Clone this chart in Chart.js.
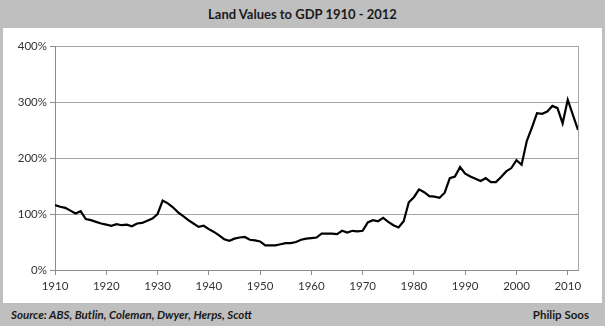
<!DOCTYPE html>
<html>
<head>
<meta charset="utf-8">
<script src="https://cdn.jsdelivr.net/npm/chart.js@4.4.1/dist/chart.umd.min.js"></script>
<style>
  html, body { margin: 0; padding: 0; background: #fff; }
  #wrap { position: relative; width: 605px; height: 326px; background: #bfbfbf; font-family: Lato, "Open Sans", sans-serif; color: #1a1a1a; }
  #title { position: absolute; left: 0; top: 0; width: 605px; height: 28px; line-height: 29px; text-align: center; font-weight: bold; font-size: 13px; }
  #box { position: absolute; left: 3px; top: 28px; width: 599px; height: 275px; background: #fff; }
  #src { position: absolute; left: 11px; top: 303px; height: 23px; line-height: 23px; font-size: 11.5px; font-weight: bold; font-style: italic; }
  #author { position: absolute; right: 16px; top: 303px; height: 23px; line-height: 23px; font-size: 11.5px; font-weight: bold; }
</style>
</head>
<body>
<div id="wrap">
  <div id="title">Land Values to GDP 1910 - 2012</div>
  <div id="box"><canvas id="land-chart" width="599" height="275"></canvas></div>
  <div id="src">Source: ABS, Butlin, Coleman, Dwyer, Herps, Scott</div>
  <div id="author">Philip Soos</div>
</div>
<script>
// years on the x axis
var years = [
  1910, 1911, 1912, 1913, 1914, 1915, 1916, 1917, 1918, 1919,
  1920, 1921, 1922, 1923, 1924, 1925, 1926, 1927, 1928, 1929,
  1930, 1931, 1932, 1933, 1934, 1935, 1936, 1937, 1938, 1939,
  1940, 1941, 1942, 1943, 1944, 1945, 1946, 1947, 1948, 1949,
  1950, 1951, 1952, 1953, 1954, 1955, 1956, 1957, 1958, 1959,
  1960, 1961, 1962, 1963, 1964, 1965, 1966, 1967, 1968, 1969,
  1970, 1971, 1972, 1973, 1974, 1975, 1976, 1977, 1978, 1979,
  1980, 1981, 1982, 1983, 1984, 1985, 1986, 1987, 1988, 1989,
  1990, 1991, 1992, 1993, 1994, 1995, 1996, 1997, 1998, 1999,
  2000, 2001, 2002, 2003, 2004, 2005, 2006, 2007, 2008, 2009,
  2010, 2011, 2012
];
// land values as % of GDP
var landToGdp = [
  116, 113, 111, 106, 101, 105, 91, 89, 86, 83,
  81, 79, 82, 80, 81, 78, 83, 84, 88, 92,
  100, 124, 119, 112, 103, 96, 89, 83, 77, 79,
  73, 68, 62, 55, 52, 56, 58, 59, 54, 53,
  51, 44, 44, 44, 46, 48, 48, 50, 54, 56,
  57, 58, 65, 65, 65, 64, 70, 67, 70, 69,
  70, 85, 89, 87, 93, 86, 80, 76, 87, 121,
  130, 144, 139, 132, 131, 129, 138, 164, 167, 184,
  172, 167, 163, 159, 164, 157, 157, 166, 176, 182,
  196, 188, 230, 254, 280, 279, 283, 293, 289, 262,
  304, 277, 250
];
var xTicks = [1910, 1920, 1930, 1940, 1950, 1960, 1970, 1980, 1990, 2000, 2010];
var yTicks = [0, 100, 200, 300, 400];

var points = years.map(function(yr, i) { return { x: yr, y: landToGdp[i] }; });

var tickFont = { family: 'Lato, "Open Sans", sans-serif', size: 11.5 };
var axisGrey = '#8c8c8c';
var gridGrey = '#a6a6a6';

// right-hand frame line of the plot area
var rightFrame = {
  id: 'rightFrame',
  afterDraw: function(chart) {
    var ctx = chart.ctx, a = chart.chartArea;
    ctx.save();
    ctx.strokeStyle = gridGrey;
    ctx.lineWidth = 1;
    ctx.beginPath();
    ctx.moveTo(Math.round(a.right) + 0.5, a.top);
    ctx.lineTo(Math.round(a.right) + 0.5, a.bottom);
    ctx.stroke();
    ctx.restore();
  }
};

var landChart = new Chart(document.getElementById('land-chart').getContext('2d'), {
  type: 'line',
  data: {
    datasets: [{
      data: points,
      borderColor: '#000',
      borderWidth: 2.2,
      pointRadius: 0,
      tension: 0,
      fill: false
    }]
  },
  options: {
    responsive: false,
    animation: false,
    layout: { padding: { top: 18, right: 24, left: 0, bottom: 0 } },
    plugins: { legend: { display: false }, tooltip: { enabled: false } },
    scales: {
      x: {
        type: 'linear',
        min: years[0],
        max: years[years.length - 1],
        afterBuildTicks: function(s) {
          s.ticks = xTicks.map(function(v) { return { value: v }; });
        },
        afterFit: function(s) { s.height = 33; },
        grid: { drawOnChartArea: false, drawTicks: true, tickLength: 5, color: axisGrey },
        border: { color: axisGrey },
        ticks: {
          maxRotation: 0,
          autoSkip: false,
          padding: 4,
          color: '#333',
          font: tickFont,
          callback: function(v) { return String(v); }
        }
      },
      y: {
        min: yTicks[0],
        max: yTicks[yTicks.length - 1],
        afterBuildTicks: function(s) {
          s.ticks = yTicks.map(function(v) { return { value: v }; });
        },
        afterFit: function(s) { s.width = 52; },
        grid: { color: gridGrey, tickLength: 5, tickColor: axisGrey },
        border: { color: axisGrey },
        ticks: {
          padding: 3,
          color: '#333',
          font: tickFont,
          callback: function(v) { return v + '%'; }
        }
      }
    }
  },
  plugins: [rightFrame]
});
</script>
</body>
</html>
